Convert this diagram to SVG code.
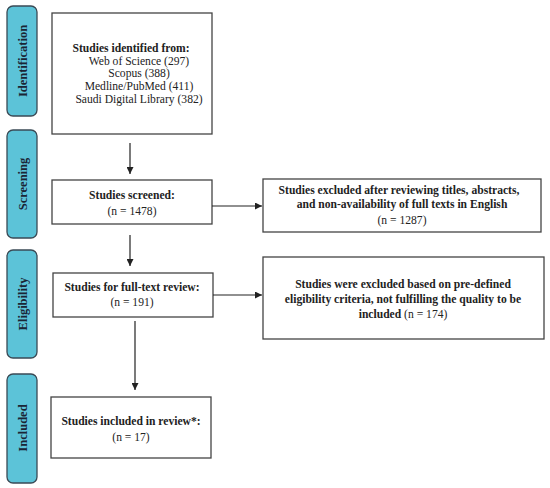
<svg xmlns="http://www.w3.org/2000/svg" width="550" height="488" viewBox="0 0 550 488">
<defs>
<style>
.side{fill:#5cc3d8;stroke:#3a4a55;stroke-width:1.3}
.box{fill:#fff;stroke:#444;stroke-width:1.3}
.t{font-family:"Liberation Serif",serif;font-size:11.6px;fill:#222;text-anchor:middle}
.b{font-weight:bold}
.st{font-family:"Liberation Serif",serif;font-size:12.5px;font-weight:bold;fill:#1a2535;text-anchor:middle}
.c{stroke:#222;stroke-width:1.2;fill:none}
</style>
<marker id="ah" viewBox="0 0 10 10" refX="10" refY="5" markerWidth="7" markerHeight="7" orient="auto" markerUnits="userSpaceOnUse">
<path d="M0,0 L10,5 L0,10 z" fill="#222"/>
</marker>
</defs>
<rect width="550" height="488" fill="#fff"/>
<g id="side-identification"><rect class="side" x="7" y="6" width="30" height="110" rx="6"/><text class="st" transform="translate(27,61) rotate(-90)">Identification</text></g>
<g id="side-screening"><rect class="side" x="7" y="130" width="30" height="108" rx="6"/><text class="st" transform="translate(27,184) rotate(-90)">Screening</text></g>
<g id="side-eligibility"><rect class="side" x="7" y="250" width="30" height="108" rx="6"/><text class="st" transform="translate(27,304) rotate(-90)">Eligibility</text></g>
<g id="side-included"><rect class="side" x="7" y="374" width="30" height="109" rx="6"/><text class="st" transform="translate(27,428) rotate(-90)">Included</text></g>

<g id="identified"><rect class="box" x="52" y="13" width="160" height="121"/>
<text class="t b" x="131" y="52">Studies identified from:</text>
<text class="t" x="139" y="65">Web of Science (297)</text>
<text class="t" x="139" y="77">Scopus (388)</text>
<text class="t" x="139" y="90">Medline/PubMed (411)</text>
<text class="t" x="139" y="103">Saudi Digital Library (382)</text></g>

<g id="screened"><rect class="box" x="52" y="180" width="160" height="44"/>
<text class="t b" x="132" y="199">Studies screened:</text>
<text class="t" x="132" y="215">(n = 1478)</text></g>

<g id="excluded1"><rect class="box" x="263" y="179" width="278" height="53"/>
<text class="t b" x="399" y="194">Studies excluded after reviewing titles, abstracts,</text>
<text class="t b" x="402" y="208">and non-availability of full texts in English</text>
<text class="t" x="402" y="224">(n = 1287)</text></g>

<g id="fulltext"><rect class="box" x="53" y="273" width="160" height="44"/>
<text class="t b" x="132" y="291">Studies for full-text review:</text>
<text class="t" x="132" y="306">(n = 191)</text></g>

<g id="excluded2"><rect class="box" x="263" y="257" width="281" height="82"/>
<text class="t b" x="403" y="288">Studies were excluded based on pre-defined</text>
<text class="t b" x="403" y="303">eligibility criteria, not fulfilling the quality to be</text>
<text class="t" x="403" y="318"><tspan class="b">included</tspan> (n = 174)</text></g>

<g id="included"><rect class="box" x="51" y="397" width="160" height="61"/>
<text class="t b" x="131" y="425">Studies included in review*:</text>
<text class="t" x="131" y="441">(n = 17)</text></g>

<g id="connectors">
<line class="c" x1="130" y1="143" x2="130" y2="174" marker-end="url(#ah)"/>
<line class="c" x1="212" y1="206" x2="262" y2="206" marker-end="url(#ah)"/>
<line class="c" x1="130" y1="235" x2="130" y2="266" marker-end="url(#ah)"/>
<line class="c" x1="213" y1="295" x2="262" y2="295" marker-end="url(#ah)"/>
<line class="c" x1="135" y1="321" x2="135" y2="390" marker-end="url(#ah)"/>
</g>
</svg>
